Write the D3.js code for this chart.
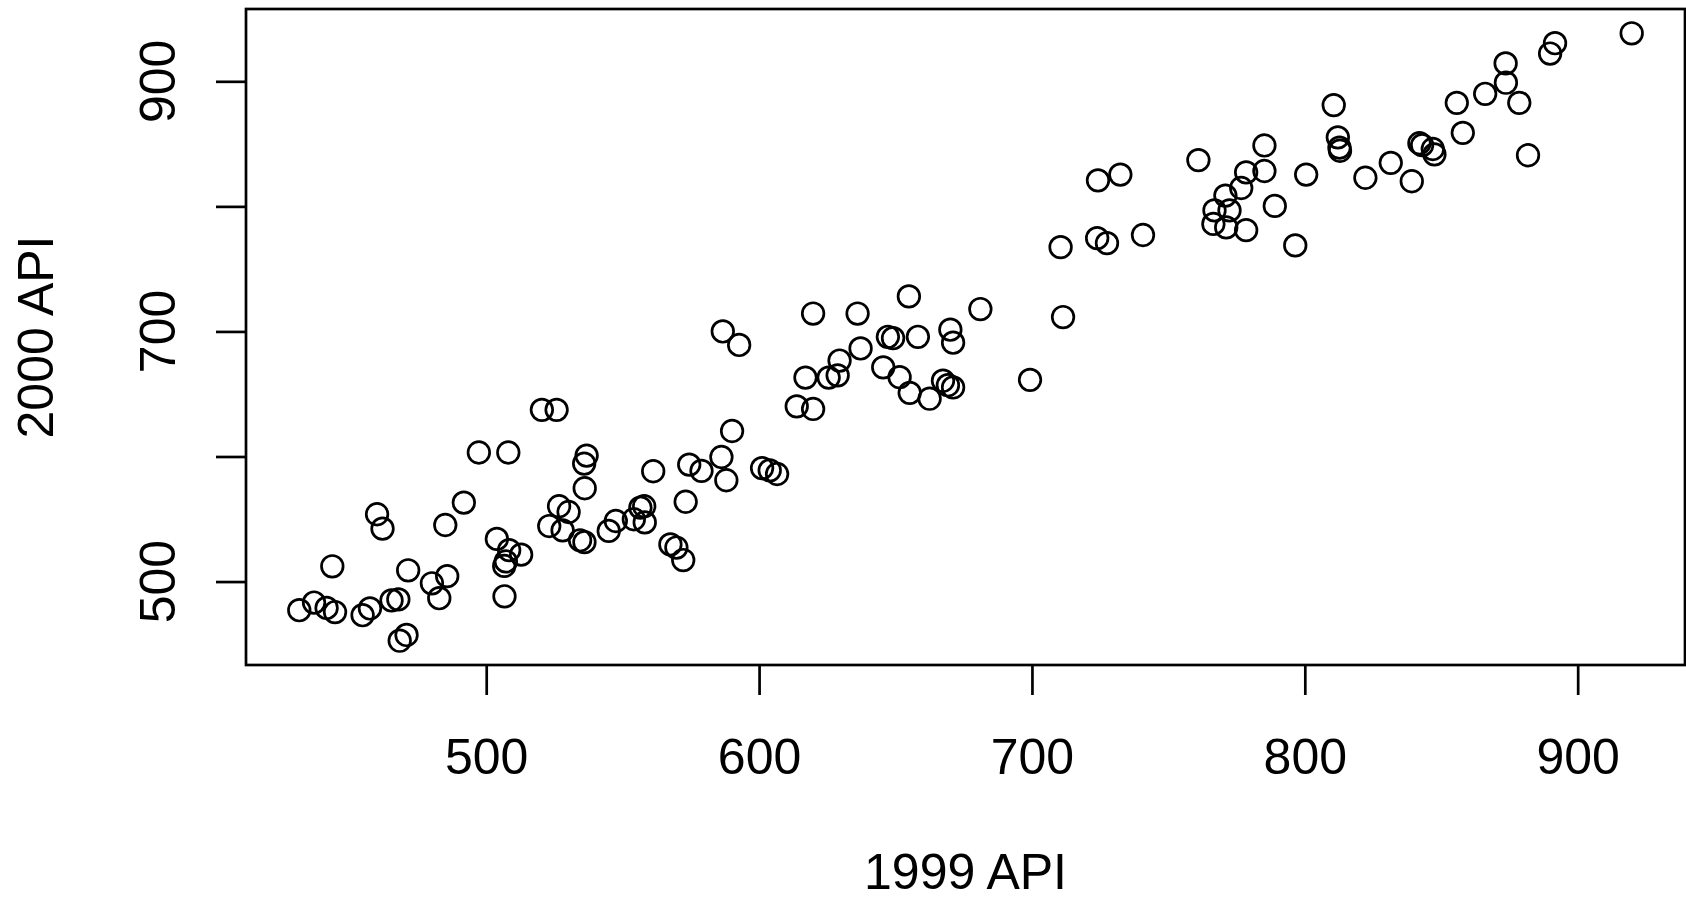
<!DOCTYPE html>
<html>
<head>
<meta charset="utf-8">
<script src="https://cdn.jsdelivr.net/npm/d3@7"></script>
<style>
  body { margin: 0; background: #fff; }
  text { font-family: "Liberation Sans", Arial, Helvetica, sans-serif; fill: #000; }
</style>
</head>
<body>
<svg id="chart"></svg>
<script>
var width = 1686,
    height = 900;

var box = {left: 246, right: 1685, top: 9, bottom: 665};

// 1999 API (x) and 2000 API (y)
var api99 = [431.5, 436.9, 441.5, 444.6, 443.6, 454.7, 457.4, 460.0, 462.0, 465.3,
  467.8, 468.3, 470.8, 471.4, 480.1, 482.8, 485.0, 485.7, 491.8, 497.3,
  503.9, 506.6, 506.7, 507.2, 508.1, 508.4, 512.8, 520.4, 523.1, 525.8,
  526.7, 528.0, 530.2, 534.4, 536.0, 536.1, 535.9, 536.8, 544.9, 547.5,
  554.1, 556.5, 557.9, 558.1, 561.2, 567.5, 569.7, 572.2, 573.1, 574.4,
  578.9, 586.7, 586.2, 588.0, 592.7, 590.1, 601.1, 603.9, 606.6, 613.8,
  619.8, 617.0, 619.8, 625.5, 628.8, 629.5, 636.1, 637.2, 645.5, 647.2,
  649.1, 651.5, 654.9, 655.2, 658.2, 662.5, 667.4, 670.1, 671.1, 669.2,
  671.1, 681.1, 699.3, 710.5, 711.4, 724.2, 732.4, 723.9, 727.5, 740.7,
  761.0, 785.2, 778.5, 785.2, 776.7, 770.9, 766.9, 772.4, 766.5, 771.2,
  778.5, 789.0, 796.5, 800.5, 810.6, 812.1, 812.7, 812.9, 822.2, 831.5,
  839.2, 842.0, 843.0, 846.9, 847.5, 855.7, 857.9, 866.1, 873.6, 873.7,
  878.6, 881.8, 889.9, 891.7, 919.8];

var api00 = [477.1, 483.2, 478.9, 475.6, 512.2, 473.1, 478.5, 553.8, 542.3, 484.9,
  485.7, 452.7, 457.3, 509.0, 498.6, 486.7, 545.2, 504.3, 563.1, 603.2,
  534.1, 512.5, 488.2, 516.1, 603.2, 525.1, 521.5, 637.3, 544.4, 637.3,
  560.2, 540.9, 555.6, 533.0, 531.5, 574.6, 594.3, 600.7, 540.5, 548.4,
  549.8, 559.1, 560.2, 547.3, 588.2, 529.7, 527.2, 517.2, 563.8, 593.5,
  588.5, 700.0, 599.6, 581.0, 689.2, 620.4, 590.7, 588.9, 586.0, 640.1,
  638.0, 663.1, 714.3, 663.1, 664.9, 676.7, 714.3, 686.4, 671.3, 695.7,
  694.6, 663.4, 728.0, 650.9, 695.7, 646.2, 660.6, 701.4, 691.0, 657.0,
  655.2, 717.9, 661.3, 767.4, 711.5, 820.8, 825.4, 774.6, 770.6, 777.1,
  837.0, 848.7, 827.2, 828.3, 814.7, 808.6, 796.8, 796.8, 786.0, 783.2,
  781.0, 800.4, 768.8, 825.4, 881.0, 855.2, 847.0, 844.5, 822.9, 834.8,
  820.1, 850.5, 849.0, 845.9, 841.6, 882.8, 858.8, 890.0, 914.3, 898.9,
  882.8, 840.9, 922.2, 930.5, 938.4];

var xTicks = [500, 600, 700, 800, 900];
var yTicks = [500, 600, 700, 800, 900];
var yLabels = [500, 700, 900];

var xTitle = "1999 API",
    yTitle = "2000 API";

var points = api99.map(function(d, i) { return {x: d, y: api00[i]}; });

// R style range padding: 4% on each side
function pad(ext) {
  var r = ext[1] - ext[0];
  return [ext[0] - 0.04 * r, ext[1] + 0.04 * r];
}

var x = d3.scaleLinear()
    .domain(pad(d3.extent(api99)))
    .range([box.left, box.right]);

var y = d3.scaleLinear()
    .domain(pad(d3.extent(api00)))
    .range([box.bottom, box.top]);

var svg = d3.select("#chart")
    .attr("width", width)
    .attr("height", height);

svg.append("rect")
    .attr("width", width)
    .attr("height", height)
    .attr("fill", "#fff");

var lw = 2.7;

// x axis
svg.append("g")
    .attr("transform", "translate(0," + box.bottom + ")")
    .call(d3.axisBottom(x).tickValues(xTicks).tickSize(30).tickPadding(43.5).tickFormat(d3.format("d")))
    .call(function(g) {
      g.select(".domain").remove();
      g.selectAll("line").attr("stroke", "#000").attr("stroke-width", lw);
      g.selectAll("text").attr("font-size", 50).attr("font-family", null);
    });

// y axis, labels only on every other tick (as R drops overlapping ones)
svg.append("g")
    .attr("transform", "translate(" + box.left + ",0)")
    .call(d3.axisLeft(y).tickValues(yTicks).tickSize(30).tickFormat(""))
    .call(function(g) {
      g.select(".domain").remove();
      g.selectAll("line").attr("stroke", "#000").attr("stroke-width", lw);
    });

svg.append("g").selectAll("text")
    .data(yLabels)
    .enter().append("text")
    .attr("transform", function(d) { return "translate(175," + y(d) + ") rotate(-90)"; })
    .attr("text-anchor", "middle")
    .attr("font-size", 50)
    .text(function(d) { return d; });

// points
svg.append("g").selectAll("circle")
    .data(points)
    .enter().append("circle")
    .attr("cx", function(d) { return x(d.x); })
    .attr("cy", function(d) { return y(d.y); })
    .attr("r", 10.8)
    .attr("fill", "none")
    .attr("stroke", "#000")
    .attr("stroke-width", lw);

// plot box
svg.append("rect")
    .attr("x", box.left)
    .attr("y", box.top)
    .attr("width", box.right - box.left)
    .attr("height", box.bottom - box.top)
    .attr("fill", "none")
    .attr("stroke", "#000")
    .attr("stroke-width", lw);

// titles
svg.append("text")
    .attr("x", (box.left + box.right) / 2)
    .attr("y", 889)
    .attr("text-anchor", "middle")
    .attr("font-size", 50)
    .text(xTitle);

svg.append("text")
    .attr("transform", "translate(53," + (box.top + box.bottom) / 2 + ") rotate(-90)")
    .attr("text-anchor", "middle")
    .attr("font-size", 50)
    .text(yTitle);
</script>
</body>
</html>
